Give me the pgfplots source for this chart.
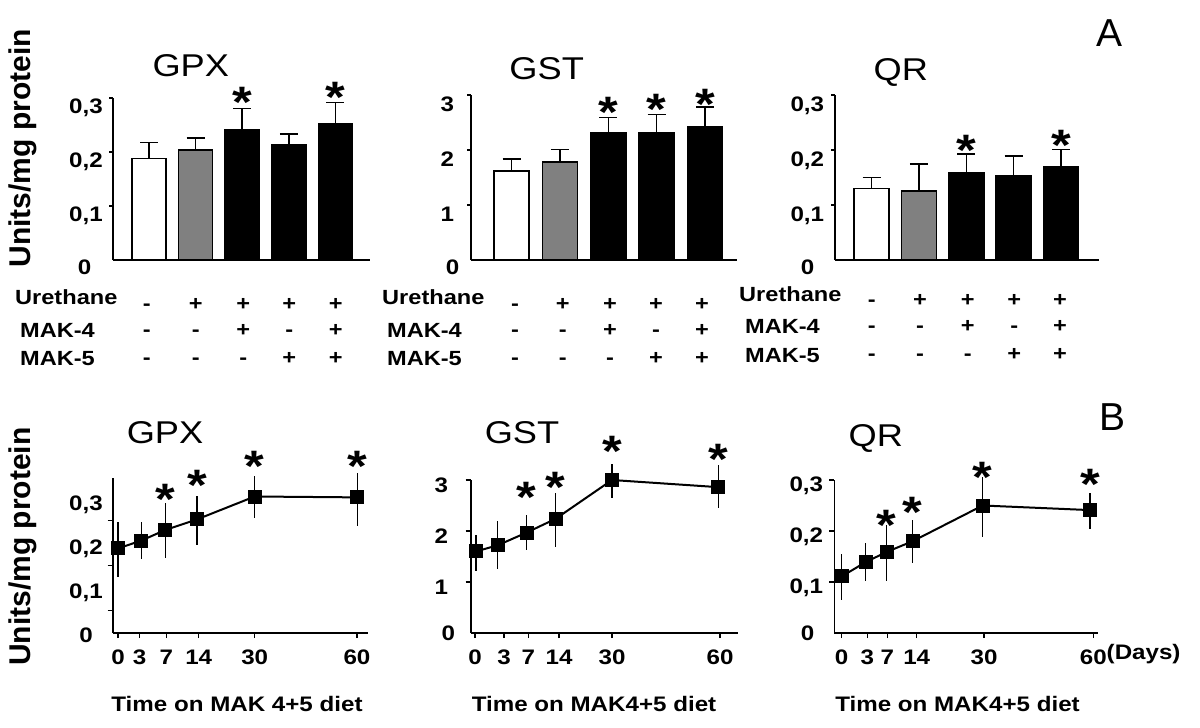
\documentclass[border=0pt]{standalone}
\usepackage{fontspec}
\setmainfont{Liberation Sans}
\usepackage{graphicx}
\usepackage{pgfplots}
\pgfplotsset{compat=1.18}
\definecolor{gr}{HTML}{808080}
\newcommand\hs[1]{\scalebox{1.15}[1]{#1}}
\newcommand\tl{\bfseries\fontsize{21}{21}\selectfont}
\pgfplotsset{
 common/.style={scale only axis, anchor=south west, axis lines=left,
   axis line style={line width=1.6pt,-}, clip=false, ymin=0,
   tick label style={font=\tl, inner sep=0pt}, yticklabel style={anchor=base east},
   every tick/.style={black, line width=1.3pt}, tick align=outside, major tick length=4pt},
 barax/.style={common, xtick=\empty},
 linax/.style={common, xmin=0, xticklabel style={anchor=base, yshift=-26.5pt}, major tick length=5pt},
 bw/.style={ybar, bar shift=0pt, draw=black, line width=1.6pt,
   error bars/y dir=plus, error bars/y explicit,
   error bars/error bar style={line width=1.5pt, black},
   error bars/error mark options={rotate=90, mark size=9pt, line width=1.5pt, black}},
 ln/.style={black, line width=2pt, mark=square*, mark size=6pt, mark options={solid},
   error bars/y dir=both, error bars/y explicit,
   error bars/error bar style={line width=1.5pt}, error bars/error mark=none},
}
\tikzset{
 ast/.style={font=\bfseries\fontsize{44}{44}\selectfont, inner sep=0pt, anchor=center, yshift=-9pt},
 ttl/.style={font=\fontsize{31.5}{32}\selectfont, inner sep=0pt, anchor=base},
 rl/.style={font=\bfseries\fontsize{20.5}{21}\selectfont, inner sep=0pt, anchor=base west},
 sgn/.style={font=\bfseries\fontsize{20.5}{21}\selectfont, inner sep=0pt, anchor=base},
 yl/.style={font=\bfseries\fontsize{30}{30}\selectfont, inner sep=0pt, anchor=base, rotate=90},
 xl/.style={font=\bfseries\fontsize{21}{21}\selectfont, inner sep=0pt, anchor=base},
 zl/.style={font=\tl, inner sep=0pt, anchor=base},
}
\newcommand\signs[8]{%
 \node[sgn] at (#1pt,-#6pt) {\hs{-}}; \node[sgn] at (#2pt,-#6pt) {\hs{+}}; \node[sgn] at (#3pt,-#6pt) {\hs{+}}; \node[sgn] at (#4pt,-#6pt) {\hs{+}}; \node[sgn] at (#5pt,-#6pt) {\hs{+}};
 \node[sgn] at (#1pt,-#7pt) {\hs{-}}; \node[sgn] at (#2pt,-#7pt) {\hs{-}}; \node[sgn] at (#3pt,-#7pt) {\hs{+}}; \node[sgn] at (#4pt,-#7pt) {\hs{-}}; \node[sgn] at (#5pt,-#7pt) {\hs{+}};
 \node[sgn] at (#1pt,-#8pt) {\hs{-}}; \node[sgn] at (#2pt,-#8pt) {\hs{-}}; \node[sgn] at (#3pt,-#8pt) {\hs{-}}; \node[sgn] at (#4pt,-#8pt) {\hs{+}}; \node[sgn] at (#5pt,-#8pt) {\hs{+}};
}
\begin{document}
\begin{tikzpicture}
\useasboundingbox (0,0) rectangle (1200pt,-728pt);

% ---------------- Panel A: GPX ----------------
\begin{axis}[barax, at={(113pt,-260pt)}, width=257pt, height=162pt,
  xmin=-0.773, xmax=4.742, ymax=0.3, ytick={0.1,0.2,0.3},
  yticklabels={{\hs{0,1}},{\hs{0,2}},{\hs{0,3}}},
  yticklabel style={xshift=-6pt, yshift=-15.5pt}]
\addplot[fill=white, bw, bar width=34pt] coordinates {(0,0.188) +- (0,0.030)};
\addplot[fill=gr, bw, bar width=34pt] coordinates {(1,0.204) +- (0,0.022)};
\addplot[fill=black, bw, bar width=34pt] coordinates {(2,0.241) +- (0,0.040) (3,0.213) +- (0,0.020) (4,0.252) +- (0,0.040)};
\node[ast] at (axis cs:2,0.309) {\hs{*}};
\node[ast] at (axis cs:4,0.318) {\hs{*}};
\end{axis}

% ---------------- Panel A: GST ----------------
\begin{axis}[barax, at={(471pt,-260pt)}, width=266pt, height=165pt,
  xmin=-0.837, xmax=4.659, ymax=3, ytick={1,2,3},
  yticklabels={\hs{1},\hs{2},\hs{3}},
  yticklabel style={xshift=-12.7pt, yshift=-16.5pt}]
\addplot[fill=white, bw, bar width=35pt] coordinates {(0,1.62) +- (0,0.22)};
\addplot[fill=gr, bw, bar width=35pt] coordinates {(1,1.78) +- (0,0.23)};
\addplot[fill=black, bw, bar width=35pt] coordinates {(2,2.31) +- (0,0.28) (3,2.31) +- (0,0.34) (4,2.43) +- (0,0.35)};
\node[ast] at (axis cs:2,2.85) {\hs{*}};
\node[ast] at (axis cs:3,2.91) {\hs{*}};
\node[ast] at (axis cs:4,3.00) {\hs{*}};
\end{axis}

% ---------------- Panel A: QR ----------------
\begin{axis}[barax, at={(835pt,-260pt)}, width=264pt, height=165pt,
  xmin=-0.770, xmax=4.80, ymax=0.3, ytick={0.1,0.2,0.3},
  yticklabels={{\hs{0,1}},{\hs{0,2}},{\hs{0,3}}},
  yticklabel style={xshift=-6.7pt, yshift=-16.5pt}]
\addplot[fill=white, bw, bar width=35pt] coordinates {(0,0.130) +- (0,0.020)};
\addplot[fill=gr, bw, bar width=35pt] coordinates {(1,0.125) +- (0,0.050)};
\addplot[fill=black, bw, bar width=35pt] coordinates {(2,0.158) +- (0,0.035) (3,0.153) +- (0,0.036) (4,0.169) +- (0,0.032)};
\node[ast] at (axis cs:2,0.215) {\hs{*}};
\node[ast] at (axis cs:4,0.224) {\hs{*}};
\end{axis}

% ---------------- Panel B: GPX ----------------
\begin{axis}[linax, at={(112.7pt,-633pt)}, width=255.6pt, height=155pt,
  xmax=255.6, ymax=0.352,
  xtick={5.3,27,53.7,86,142,244.3},
  xticklabels={\hs{0},\hs{3},\hs{7},\hs{14},\hs{30},\hs{60}},
  ytick={0.051,0.153,0.255}, yticklabels={,,},
  extra y ticks={0.1,0.2,0.3},
  extra y tick labels={{\hs{0,1}},{\hs{0,2}},{\hs{0,3}}},
  extra y tick style={tick style={draw=none}},
  yticklabel style={xshift=-4.7pt, yshift=-9.5pt}]
\addplot[ln] coordinates {
 (5.3,0.192) += (0,0.059) -= (0,0.064)
 (28.7,0.210) += (0,0.041) -= (0,0.043)
 (52.7,0.234) += (0,0.062) -= (0,0.063)
 (84.3,0.258) += (0,0.053) -= (0,0.059)
 (142,0.310) += (0,0.047) -= (0,0.049)
 (244.7,0.308) += (0,0.056) -= (0,0.066)};
\node[ast] at (axis cs:52.7,0.325) {\hs{*}};
\node[ast] at (axis cs:84.3,0.356) {\hs{*}};
\node[ast] at (axis cs:142,0.400) {\hs{*}};
\node[ast] at (axis cs:244.7,0.400) {\hs{*}};
\end{axis}

% ---------------- Panel B: GST ----------------
\begin{axis}[linax, at={(470.7pt,-633pt)}, width=267.6pt, height=153pt,
  xmax=267.6, ymax=3,
  xtick={4.3,33.3,57.6,88.3,141.3,249.3},
  xticklabels={\hs{0},\hs{3},\hs{7},\hs{14},\hs{30},\hs{60}},
  ytick={1,2,3}, yticklabels={\hs{1},\hs{2},\hs{3}},
  yticklabel style={xshift=-17.4pt, yshift=-12.5pt}]
\addplot[ln] coordinates {
 (5.3,1.60) += (0,0.32) -= (0,0.39)
 (27,1.72) += (0,0.48) -= (0,0.47)
 (56,1.97) += (0,0.35) -= (0,0.35)
 (85,2.24) += (0,0.50) -= (0,0.56)
 (141.3,3.00) += (0,0.31) -= (0,0.36)
 (247.6,2.86) += (0,0.43) -= (0,0.40)};
\node[ast] at (axis cs:56,2.83) {\hs{*}};
\node[ast] at (axis cs:85,3.03) {\hs{*}};
\node[ast] at (axis cs:141.3,3.74) {\hs{*}};
\node[ast] at (axis cs:247.6,3.58) {\hs{*}};
\end{axis}

% ---------------- Panel B: QR ----------------
\begin{axis}[linax, at={(834.3pt,-633pt)}, width=264pt, height=153pt,
  xmax=264, ymax=0.3,
  xtick={7.4,33,53,82.4,149.7,259},
  xticklabels={\hs{0},\hs{3},\hs{7},\hs{14},\hs{30},\hs{60}},
  ytick={0.1,0.2,0.3}, yticklabels={{\hs{0,1}},{\hs{0,2}},{\hs{0,3}}},
  yticklabel style={xshift=-6pt, yshift=-11.5pt}]
\addplot[ln] coordinates {
 (7.4,0.111) += (0,0.044) -= (0,0.047)
 (31.4,0.139) += (0,0.037) -= (0,0.038)
 (52.4,0.159) += (0,0.052) -= (0,0.058)
 (78.4,0.180) += (0,0.042) -= (0,0.043)
 (148.4,0.250) += (0,0.055) -= (0,0.062)
 (255.7,0.241) += (0,0.034) -= (0,0.038)};
\node[ast] at (axis cs:52.4,0.228) {\hs{*}};
\node[ast] at (axis cs:78.4,0.254) {\hs{*}};
\node[ast] at (axis cs:148.4,0.322) {\hs{*}};
\node[ast] at (axis cs:255.7,0.309) {\hs{*}};
\end{axis}

% ---------------- Texts ----------------
\node[ttl] at (190.8pt,-76.7pt) {\hs{GPX}};
\node[ttl] at (546.7pt,-79pt) {\hs{GST}};
\node[ttl] at (900.8pt,-80pt) {\hs{QR}};
\node[ttl] at (165pt,-443.3pt) {\hs{GPX}};
\node[ttl] at (522pt,-443.3pt) {\hs{GST}};
\node[ttl] at (875.8pt,-446pt) {\hs{QR}};
\node[font=\fontsize{39}{39}\selectfont, inner sep=0pt, anchor=base] at (1109pt,-46.7pt) {A};
\node[font=\fontsize{39}{39}\selectfont, inner sep=0pt, anchor=base] at (1112.5pt,-430pt) {B};
\node[yl] at (30pt,-148.3pt) {Units/mg protein};
\node[yl] at (30pt,-546.7pt) {Units/mg protein};

\node[zl] at (84.5pt,-274.5pt) {\hs{0}};
\node[zl] at (452.5pt,-274.5pt) {\hs{0}};
\node[zl] at (807.5pt,-274.5pt) {\hs{0}};
\node[zl] at (86pt,-642.5pt) {\hs{0}};
\node[zl] at (448.3pt,-640.8pt) {\hs{0}};
\node[zl] at (807.5pt,-640.8pt) {\hs{0}};

\node[rl] at (15pt,-304pt) {\hs{Urethane}};
\node[rl] at (20pt,-337pt) {\hs{MAK-4}};
\node[rl] at (20pt,-365pt) {\hs{MAK-5}};
\node[rl] at (382pt,-304pt) {\hs{Urethane}};
\node[rl] at (387pt,-337pt) {\hs{MAK-4}};
\node[rl] at (387pt,-365pt) {\hs{MAK-5}};
\node[rl] at (739pt,-301.7pt) {\hs{Urethane}};
\node[rl] at (745pt,-333.3pt) {\hs{MAK-4}};
\node[rl] at (745pt,-362.7pt) {\hs{MAK-5}};
\signs{146.7}{195.7}{243.3}{289.3}{335.7}{310}{336}{364.5}
\signs{515}{562.7}{610}{656}{702}{310}{336}{364.5}
\signs{871.7}{920}{967.7}{1014.3}{1060}{306.7}{332.4}{360.7}

\node[xl] at (237pt,-711.7pt) {\hs{Time on MAK 4+5 diet}};
\node[xl] at (594pt,-711.7pt) {\hs{Time on MAK4+5 diet}};
\node[xl] at (957.5pt,-711.7pt) {\hs{Time on MAK4+5 diet}};
\node[zl, anchor=base west] at (1106.5pt,-659.5pt) {\hs{(Days)}};
\end{tikzpicture}
\end{document}
